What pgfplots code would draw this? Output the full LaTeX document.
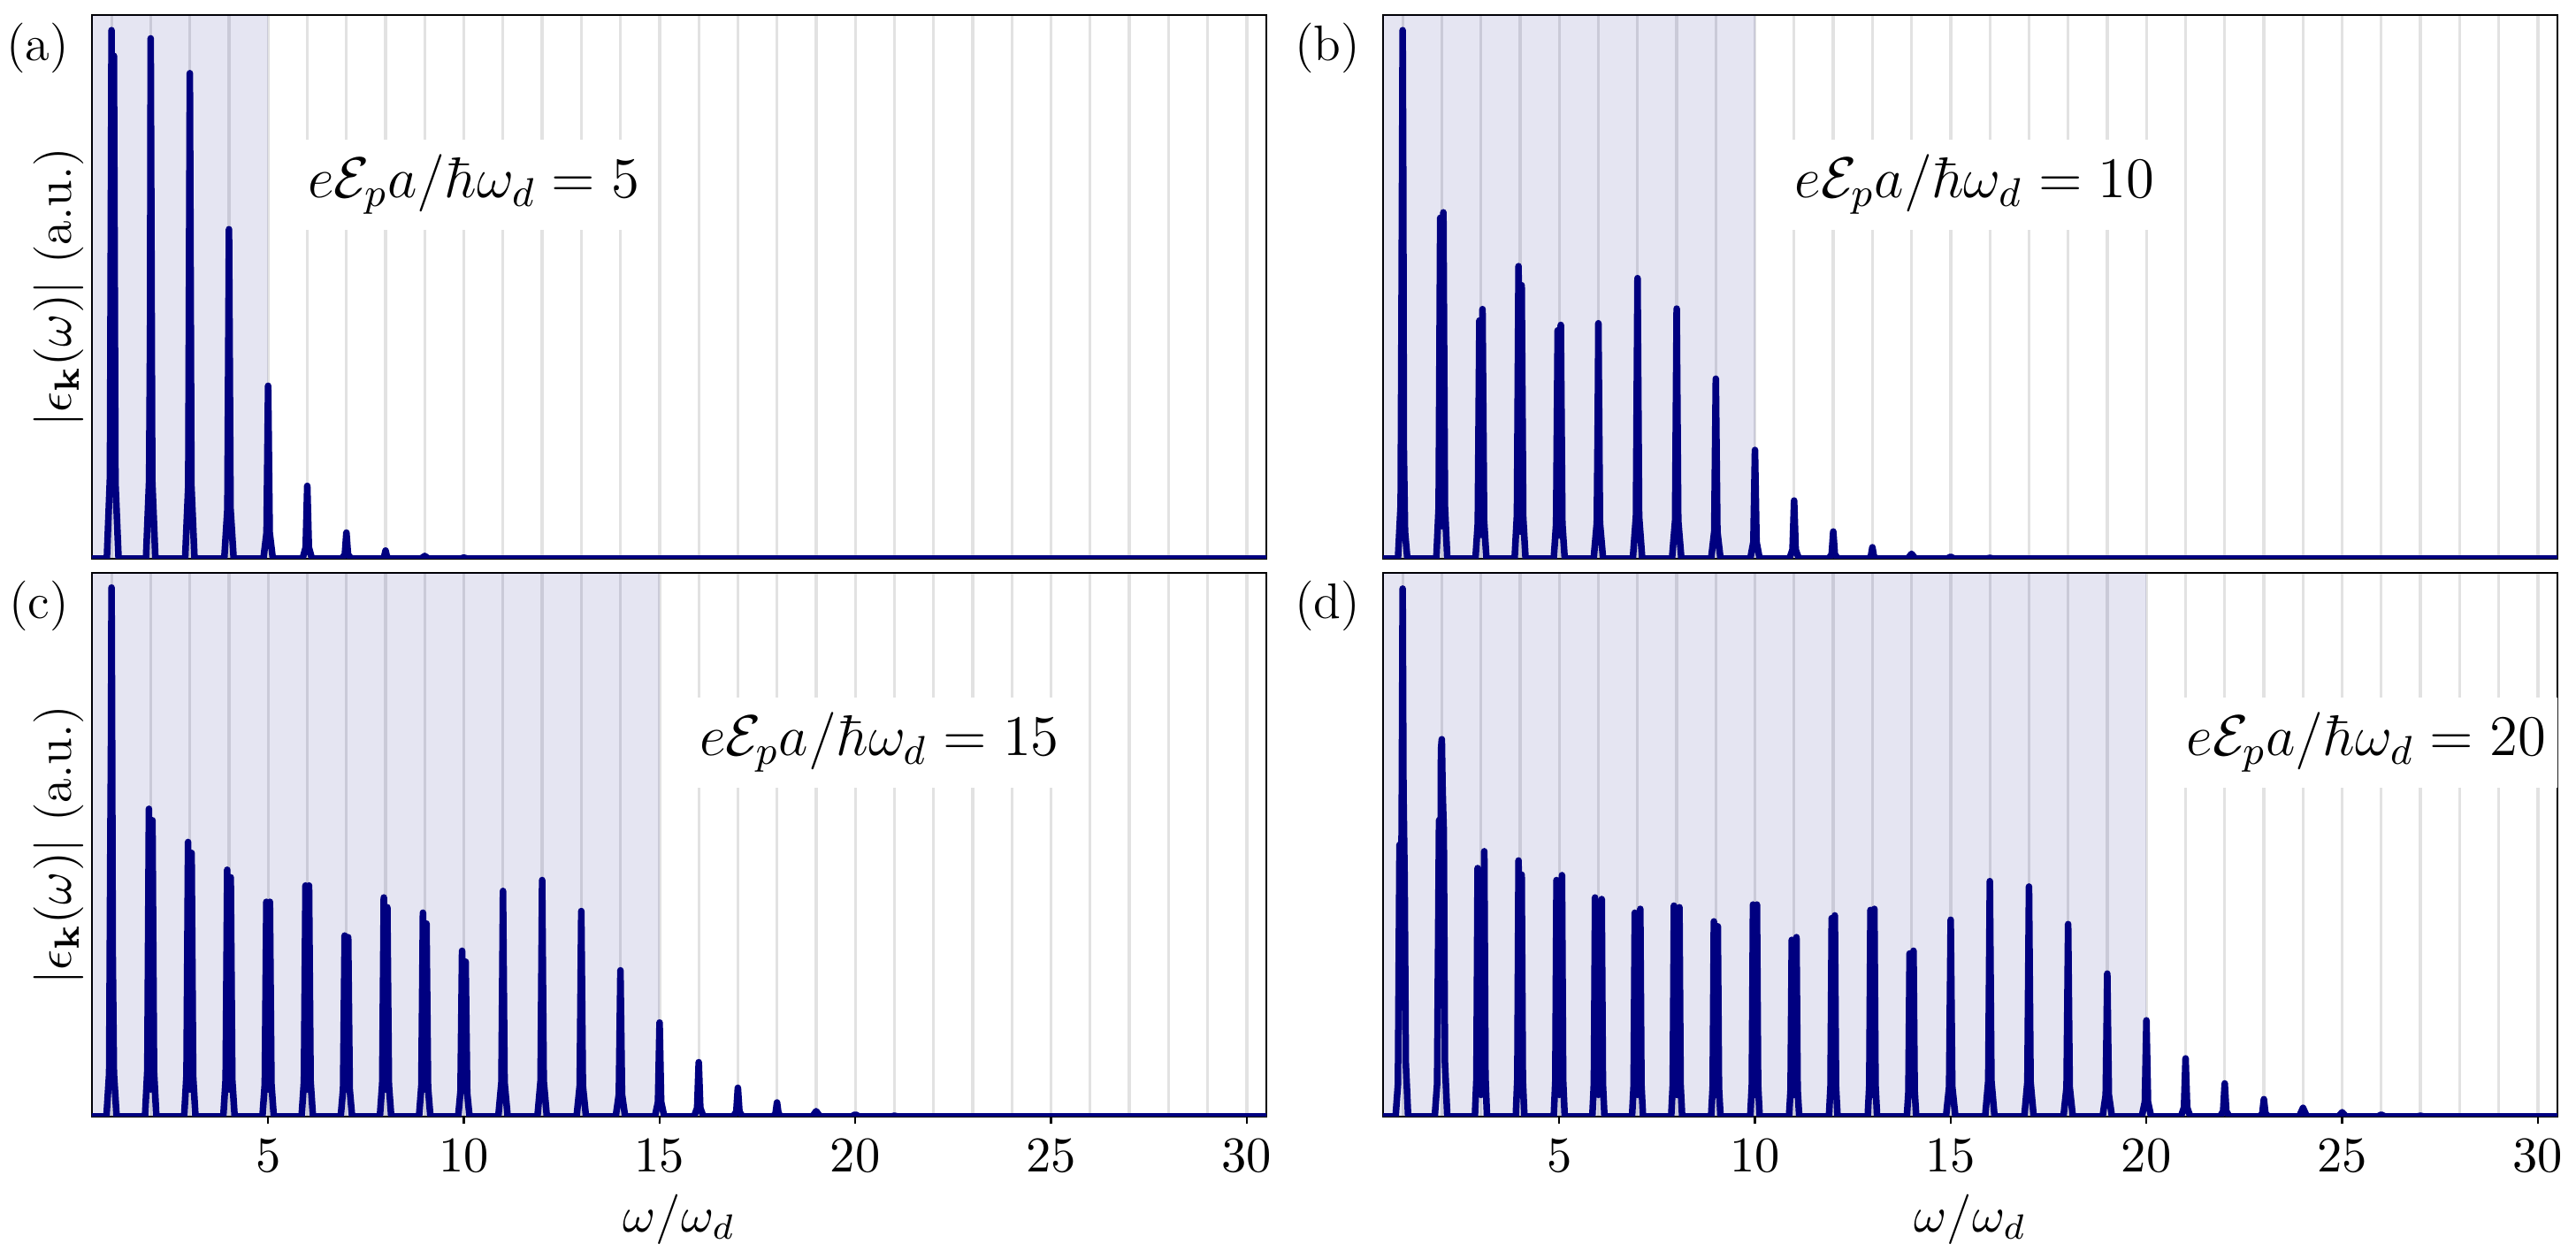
\RequirePackage{fix-cm}
\documentclass[border=0pt]{standalone}
\usepackage{pgfplots}
\pgfplotsset{compat=1.18}
\definecolor{navyc}{RGB}{0,0,128}
\definecolor{gridc}{RGB}{226,226,226}
\newcommand{\fsA}{\fontsize{11.3}{13}\selectfont}
\newcommand{\fsB}{\fontsize{13}{15}\selectfont}
\pgfplotsset{
  panel/.style={
    width=265.6pt, height=123pt, scale only axis,
    xmin=0.5, xmax=30.5, ymin=0, ymax=1,
    ytick=\empty,
    tick align=outside,
    xtick pos=left,
    axis line style={line width=0.55pt},
    every tick/.style={black, line width=0.45pt},
    tick label style={font=\fsA},
    label style={font=\fsA},
  },
  toppanel/.style={
    panel,
    xtick={1,...,30},
    xticklabels={,,},
    major tick length=0pt,
    xmajorgrids=true,
    major grid style={line width=0.65pt, draw=gridc},
  },
  botpanel/.style={
    panel,
    xtick={5,10,15,20,25,30},
    minor xtick={1,...,30},
    minor tick length=0pt,
    major tick length=1.7pt,
    xminorgrids=true,
    minor grid style={line width=0.65pt, draw=gridc},
    xlabel={$\omega/\omega_d$},
    xlabel style={at={(axis description cs:0.5,0)}, anchor=north, yshift=-17.4pt, inner sep=0pt},
  },
  ylab/.style={
    ylabel={$|\epsilon_{\mathbf{k}}(\omega)|$ (a.u.)},
    ylabel style={at={(axis description cs:-0.028,0.5)}, anchor=center},
  },
  spec/.style={draw=navyc, line width=1.5pt, line join=round, mark=none},
  plab/.style={extra description/.code={\node[anchor=north east, inner sep=0pt, font=\fsA] at (-0.0188,0.987) {#1};}},
}
\begin{document}
\begin{tikzpicture}
\useasboundingbox (0,0) rectangle (582.6pt,283pt);
% ---------------- (a)
\begin{axis}[toppanel, ylab, plab={(a)}, at={(20.8pt,156.6pt)}, anchor=south west]
\fill[navyc, opacity=0.1] (axis cs:0.5,0) rectangle (axis cs:5,1);
\addplot[spec] coordinates {
(0.5,0) (0.88,0) (0.96,0.15) (1.0,0.972) (1.03,0.5) (1.06,0.925) (1.1,0.14) (1.18,0)
(1.88,0) (1.96,0.144) (1.985,0.418) (2.0,0.957) (2.04,0.144) (2.12,0)
(2.88,0) (2.96,0.135) (3.0,0.893) (3.04,0.135) (3.12,0)
(3.88,0) (3.96,0.092) (4.0,0.606) (4.04,0.092) (4.12,0)
(4.88,0) (4.96,0.048) (5.0,0.318) (5.04,0.048) (5.12,0)
(5.88,0) (5.96,0.021) (6.0,0.134) (6.04,0.021) (6.12,0)
(6.88,0) (6.96,0.008) (7.0,0.048) (7.04,0.008) (7.12,0)
(7.88,0) (7.96,0.0025) (8.0,0.015) (8.04,0.0025) (8.12,0)
(8.9,0) (9.0,0.005) (9.1,0)
(9.9,0) (10.0,0.002) (10.1,0)
(30.5,0)
};
\node[fill=white, inner xsep=3pt, inner ysep=3.4pt, anchor=west, xshift=-3pt, font=\fsB] at (axis cs:6,0.688) {$e\mathcal{E}_p a/\hbar\omega_d = 5$};
\end{axis}
% ---------------- (b)
\begin{axis}[toppanel, plab={(b)}, at={(312.8pt,156.6pt)}, anchor=south west]
\fill[navyc, opacity=0.1] (axis cs:0.5,0) rectangle (axis cs:10,1);
\addplot[spec] coordinates {
(0.5,0) (0.88,0) (0.95,0.1) (0.975,0.505) (0.985,0.69) (1.0,0.972) (1.015,0.69) (1.03,0.2) (1.06,0.05) (1.12,0)
(1.86,0) (1.92,0.095) (1.96,0.627) (2.0,0.06) (2.04,0.637) (2.08,0.096) (2.14,0)
(2.86,0) (2.92,0.066) (2.96,0.438) (3.0,0.044) (3.04,0.459) (3.08,0.07) (3.14,0)
(3.86,0) (3.92,0.081) (3.96,0.538) (4.0,0.05) (4.04,0.503) (4.08,0.076) (4.14,0)
(4.86,0) (4.92,0.064) (4.96,0.42) (5.0,0.043) (5.04,0.43) (5.08,0.065) (5.14,0)
(5.88,0) (5.96,0.066) (5.985,0.26) (6.0,0.433) (6.04,0.066) (6.12,0)
(6.88,0) (6.96,0.078) (7.0,0.516) (7.04,0.078) (7.12,0)
(7.88,0) (7.96,0.070) (8.0,0.46) (8.04,0.070) (8.12,0)
(8.88,0) (8.96,0.050) (9.0,0.331) (9.04,0.050) (9.12,0)
(9.88,0) (9.96,0.031) (10.0,0.2) (10.04,0.031) (10.12,0)
(10.88,0) (10.96,0.017) (11.0,0.107) (11.04,0.017) (11.12,0)
(11.88,0) (11.96,0.008) (12.0,0.05) (12.04,0.008) (12.12,0)
(12.88,0) (12.96,0.0037) (13.0,0.021) (13.04,0.0037) (13.12,0)
(13.9,0) (14.0,0.009) (14.1,0)
(14.9,0) (15.0,0.0035) (15.1,0)
(15.9,0) (16.0,0.0015) (16.1,0)
(30.5,0)
};
\node[fill=white, inner xsep=3pt, inner ysep=3.4pt, anchor=west, xshift=-3pt, font=\fsB] at (axis cs:11,0.688) {$e\mathcal{E}_p a/\hbar\omega_d = 10$};
\end{axis}
% ---------------- (c)
\begin{axis}[botpanel, ylab, plab={(c)}, at={(20.8pt,30.4pt)}, anchor=south west]
\fill[navyc, opacity=0.1] (axis cs:0.5,0) rectangle (axis cs:15,1);
\addplot[spec] coordinates {
(0.5,0) (0.87,0) (0.94,0.08) (0.97,0.5) (0.985,0.667) (1.0,0.973) (1.012,0.74) (1.03,0.3) (1.06,0.08) (1.13,0)
(1.855,0) (1.915,0.086) (1.955,0.566) (2.0,0.05) (2.045,0.545) (2.085,0.083) (2.145,0)
(2.855,0) (2.915,0.077) (2.955,0.505) (3.0,0.05) (3.045,0.485) (3.085,0.074) (3.145,0)
(3.855,0) (3.915,0.069) (3.955,0.454) (4.0,0.05) (4.045,0.44) (4.085,0.067) (4.145,0)
(4.855,0) (4.915,0.060) (4.955,0.395) (5.0,0.05) (5.045,0.395) (5.085,0.060) (5.145,0)
(5.855,0) (5.915,0.065) (5.955,0.425) (6.0,0.05) (6.045,0.425) (6.085,0.065) (6.145,0)
(6.855,0) (6.915,0.051) (6.955,0.333) (7.0,0.05) (7.045,0.33) (7.085,0.050) (7.145,0)
(7.855,0) (7.915,0.061) (7.955,0.403) (8.0,0.05) (8.045,0.385) (8.085,0.059) (8.145,0)
(8.855,0) (8.915,0.057) (8.955,0.375) (9.0,0.05) (9.045,0.355) (9.085,0.054) (9.145,0)
(9.855,0) (9.915,0.047) (9.955,0.305) (10.0,0.05) (10.045,0.285) (10.085,0.044) (10.145,0)
(10.88,0) (10.96,0.063) (11.0,0.415) (11.04,0.063) (11.12,0)
(11.88,0) (11.96,0.066) (12.0,0.435) (12.04,0.066) (12.12,0)
(12.88,0) (12.96,0.057) (13.0,0.378) (13.04,0.057) (13.12,0)
(13.88,0) (13.96,0.041) (14.0,0.269) (14.04,0.041) (14.12,0)
(14.88,0) (14.96,0.027) (15.0,0.173) (15.04,0.027) (15.12,0)
(15.88,0) (15.96,0.016) (16.0,0.1) (16.04,0.016) (16.12,0)
(16.88,0) (16.96,0.009) (17.0,0.053) (17.04,0.009) (17.12,0)
(17.88,0) (17.96,0.0045) (18.0,0.026) (18.04,0.0045) (18.12,0)
(18.9,0) (19.0,0.01) (19.1,0)
(19.9,0) (20.0,0.004) (20.1,0)
(20.9,0) (21.0,0.0015) (21.1,0)
(30.5,0)
};
\node[fill=white, inner xsep=3pt, inner ysep=3.4pt, anchor=west, xshift=-3pt, font=\fsB] at (axis cs:16,0.688) {$e\mathcal{E}_p a/\hbar\omega_d = 15$};
\end{axis}
% ---------------- (d)
\begin{axis}[botpanel, plab={(d)}, at={(312.8pt,30.4pt)}, anchor=south west]
\fill[navyc, opacity=0.1] (axis cs:0.5,0) rectangle (axis cs:20,1);
\addplot[spec] coordinates {
(0.5,0) (0.82,0) (0.88,0.06) (0.92,0.5) (0.95,0.2) (0.98,0.6) (1.0,0.971) (1.02,0.6) (1.05,0.435) (1.08,0.1) (1.14,0)
(1.82,0) (1.88,0.06) (1.93,0.545) (1.96,0.3) (1.98,0.675) (2.0,0.694) (2.02,0.6) (2.05,0.525) (2.08,0.1) (2.14,0)
(2.845,0) (2.885,0.069) (2.915,0.457) (2.945,0.231) (3.0,0.04) (3.055,0.247) (3.085,0.488) (3.115,0.074) (3.155,0)
(3.89,0) (3.93,0.071) (3.96,0.471) (3.99,0.238) (4.0,0.04) (4.01,0.225) (4.04,0.445) (4.07,0.068) (4.11,0)
(4.86,0) (4.90,0.066) (4.93,0.435) (4.96,0.22) (5.0,0.04) (5.04,0.225) (5.07,0.444) (5.10,0.067) (5.14,0)
(5.845,0) (5.885,0.061) (5.915,0.403) (5.945,0.204) (6.0,0.04) (6.055,0.203) (6.085,0.4) (6.115,0.061) (6.155,0)
(6.86,0) (6.90,0.057) (6.93,0.375) (6.96,0.19) (7.0,0.04) (7.04,0.194) (7.07,0.382) (7.10,0.058) (7.14,0)
(7.86,0) (7.90,0.059) (7.93,0.388) (7.96,0.197) (8.0,0.04) (8.04,0.195) (8.07,0.385) (8.10,0.059) (8.14,0)
(8.88,0) (8.92,0.055) (8.95,0.359) (8.98,0.182) (9.0,0.04) (9.02,0.178) (9.05,0.35) (9.08,0.053) (9.12,0)
(9.88,0) (9.92,0.059) (9.95,0.39) (9.98,0.198) (10.0,0.04) (10.02,0.198) (10.05,0.39) (10.08,0.059) (10.12,0)
(10.87,0) (10.91,0.05) (10.94,0.325) (10.97,0.165) (11.0,0.04) (11.03,0.168) (11.06,0.33) (11.09,0.05) (11.13,0)
(11.89,0) (11.93,0.056) (11.96,0.365) (11.99,0.185) (12.0,0.04) (12.01,0.188) (12.04,0.37) (12.07,0.056) (12.11,0)
(12.88,0) (12.92,0.058) (12.95,0.38) (12.98,0.193) (13.0,0.04) (13.02,0.194) (13.05,0.382) (13.08,0.058) (13.12,0)
(13.88,0) (13.92,0.046) (13.95,0.3) (13.98,0.153) (14.0,0.04) (14.02,0.155) (14.05,0.305) (14.08,0.047) (14.12,0)
(14.88,0) (14.96,0.055) (15.0,0.362) (15.04,0.055) (15.12,0)
(15.88,0) (15.96,0.066) (16.0,0.433) (16.04,0.066) (16.12,0)
(16.88,0) (16.96,0.064) (17.0,0.423) (17.04,0.064) (17.12,0)
(17.88,0) (17.96,0.054) (18.0,0.354) (18.04,0.054) (18.12,0)
(18.88,0) (18.96,0.040) (19.0,0.263) (19.04,0.040) (19.12,0)
(19.88,0) (19.96,0.027) (20.0,0.177) (20.04,0.027) (20.12,0)
(20.88,0) (20.96,0.017) (21.0,0.107) (21.04,0.017) (21.12,0)
(21.88,0) (21.96,0.010) (22.0,0.061) (22.04,0.010) (22.12,0)
(22.88,0) (22.96,0.0054) (23.0,0.032) (23.04,0.0054) (23.12,0)
(23.9,0) (24.0,0.016) (24.1,0)
(24.9,0) (25.0,0.008) (25.1,0)
(25.9,0) (26.0,0.0035) (26.1,0)
(26.9,0) (27.0,0.0015) (27.1,0)
(30.5,0)
};
\node[fill=white, inner xsep=3pt, inner ysep=3.4pt, anchor=west, xshift=-3pt, font=\fsB] at (axis cs:21,0.688) {$e\mathcal{E}_p a/\hbar\omega_d = 20$};
\end{axis}
\end{tikzpicture}
\end{document}
